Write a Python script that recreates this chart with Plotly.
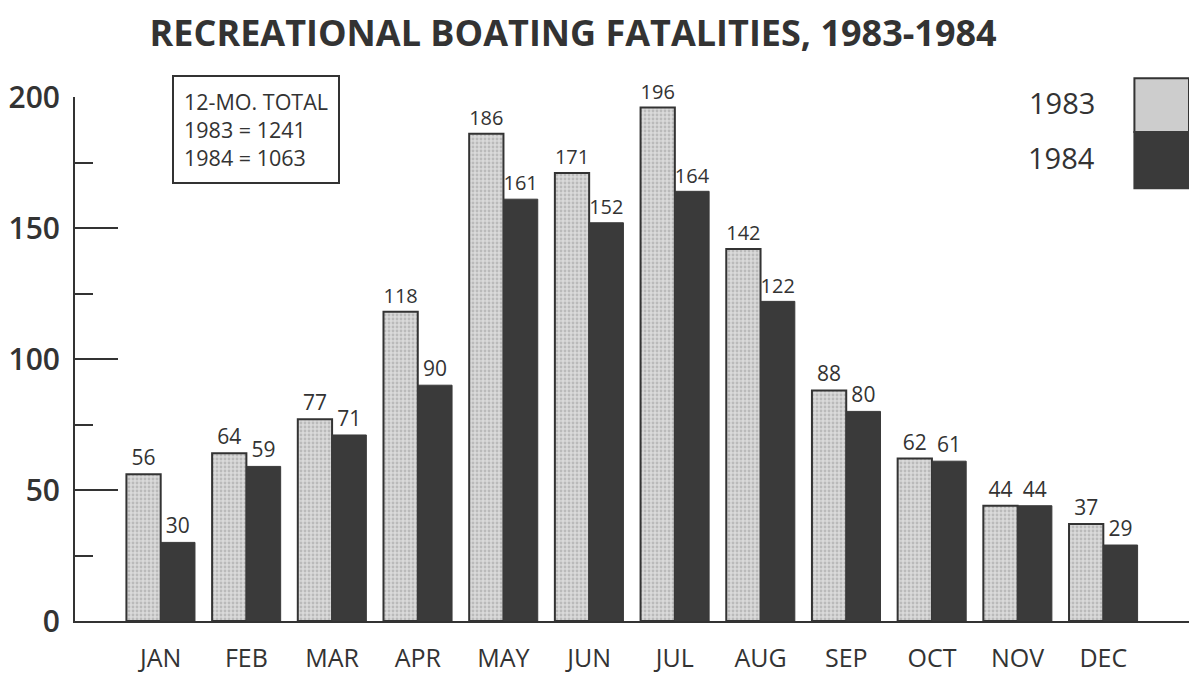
"""Recreational boating fatalities by month, 1983 vs 1984."""

import plotly.graph_objects as go

months = ["JAN", "FEB", "MAR", "APR", "MAY", "JUN", "JUL", "AUG", "SEP", "OCT", "NOV", "DEC"]
fatal_1983 = [56, 64, 77, 118, 186, 171, 196, 142, 88, 62, 44, 37]
fatal_1984 = [30, 59, 71, 90, 161, 152, 164, 122, 80, 61, 44, 29]
y_ticks = [0, 50, 100, 150, 200]

INK = "#333333"
DARK = "#3a3a3a"
FONT = "Open Sans"

x_pos = list(range(len(months)))

fig = go.Figure()
fig.add_trace(go.Bar(
    x=x_pos, y=fatal_1983, name="1983",
    marker=dict(
        color="#d0d0d0",
        line=dict(color=INK, width=2),
        pattern=dict(shape=".", fgcolor="#9a9a9a", bgcolor="#dadada", size=4, solidity=0.4),
    ),
    text=fatal_1983, textposition="outside", cliponaxis=False,
    textfont=dict(family=FONT, size=21, color=INK),
))
fig.add_trace(go.Bar(
    x=x_pos, y=fatal_1984, name="1984",
    marker=dict(color=DARK, line=dict(color=DARK, width=1)),
    text=fatal_1984, textposition="outside", cliponaxis=False,
    textfont=dict(family=FONT, size=21, color=INK),
))

# legend drawn by hand: big swatches at the right edge
fig.add_shape(type="rect", xref="paper", yref="paper",
              x0=0.951, x1=1.0, y0=0.933, y1=1.036,
              fillcolor="#cdcdcd", line=dict(color=INK, width=2))
fig.add_shape(type="rect", xref="paper", yref="paper",
              x0=0.951, x1=1.0, y0=0.826, y1=0.933,
              fillcolor=DARK, line=dict(color=DARK, width=2))
for label, yy in [("1983", 0.989), ("1984", 0.884)]:
    fig.add_annotation(text=label, xref="paper", yref="paper", x=0.917, y=yy,
                       xanchor="right", yanchor="middle", showarrow=False,
                       font=dict(family=FONT, size=29, color=INK))

fig.add_annotation(
    text="12-MO. TOTAL<br>1983 = 1241<br>1984 = 1063",
    xref="paper", yref="paper", x=0.087, y=1.042, xanchor="left", yanchor="top",
    align="left", showarrow=False, bordercolor=INK, borderwidth=2, borderpad=10,
    font=dict(family=FONT, size=21.5, color=INK),
)

fig.update_layout(
    width=1189, height=675,
    margin=dict(l=75, r=0, t=97, b=54),
    paper_bgcolor="white", plot_bgcolor="white",
    barmode="group", bargap=0.2, bargroupgap=0,
    showlegend=False,
    title=dict(text="<b>RECREATIONAL BOATING FATALITIES, 1983-1984</b>",
               x=0.482, xanchor="center", y=0.951, yanchor="middle",
               font=dict(family=FONT, size=36, color=INK)),
    xaxis=dict(
        range=[-1, 12], tickmode="array", tickvals=x_pos, ticktext=months,
        showline=True, linecolor=INK, linewidth=2, showgrid=False, zeroline=False,
        ticks="outside", ticklen=14, tickcolor="rgba(0,0,0,0)", automargin=False,
        tickfont=dict(family=FONT, size=25, color=INK),
    ),
    yaxis=dict(
        range=[0, 200], tickmode="array", tickvals=y_ticks,
        showline=True, linecolor=INK, linewidth=2, showgrid=False, zeroline=False,
        ticks="inside", ticklen=43, tickwidth=2, tickcolor=INK, automargin=False,
        minor=dict(dtick=25, ticks="inside", ticklen=18, tickwidth=2, tickcolor=INK),
        ticklabelstandoff=7,
        tickfont=dict(family=FONT, size=30, color=INK, weight=600),
    ),
)

# drop the browser's default body margin so the figure sits at the page corner
fig.write_html("out.html", config={"displayModeBar": False},
               post_script="document.body.style.margin='0';")
